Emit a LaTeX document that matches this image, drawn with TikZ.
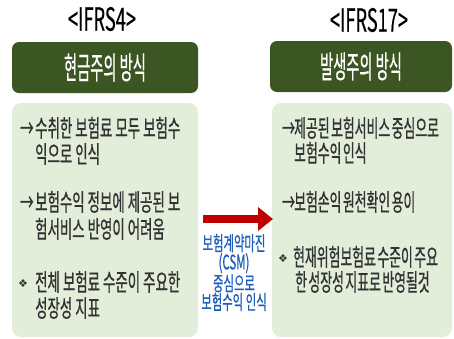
\documentclass[tikz,border=0pt]{standalone}
\usepackage{fontspec}
\usetikzlibrary{arrows.meta}
\newfontfamily\bodyfont[FakeStretch=0.56,FakeBold=0.7]{Noto Sans CJK KR}
\newfontfamily\rbodyfont[FakeStretch=0.535,FakeBold=0.7]{Noto Sans CJK KR}
\newfontfamily\csmfont[FakeStretch=0.57,FakeBold=0.5]{Noto Sans CJK KR}
\newfontfamily\hdrfont[FakeStretch=0.46,FakeBold=0.5]{Noto Sans CJK KR}
\newfontfamily\ttlfont[FakeStretch=0.57,FakeBold=0.3]{Noto Sans CJK KR}
\newfontfamily\symfont{DejaVu Sans}
\newcommand{\tightspace}{\spaceskip=1.5pt plus 1pt\relax}
\definecolor{hdrgreen}{RGB}{59,85,35}
\definecolor{lightgreen}{RGB}{226,237,218}
\definecolor{txtgray}{RGB}{50,50,50}
\definecolor{csmblue}{RGB}{30,95,190}
\definecolor{arrowred}{RGB}{192,0,0}
\tikzset{
  ttl/.style={font=\ttlfont\fontsize{32}{34}\selectfont, text=black, inner sep=0pt},
  hdrbox/.style={fill=hdrgreen, rounded corners=7pt, inner sep=0pt, text=white,
    font=\hdrfont\fontsize{31}{33}\selectfont},
  bodybox/.style={fill=lightgreen, rounded corners=9pt, inner sep=0pt},
  line/.style={anchor=base west, inner sep=0pt, text=txtgray,
    font=\bodyfont\fontsize{24}{26}\selectfont},
  rline/.style={line, font=\rbodyfont\fontsize{24}{26}\selectfont\tightspace},
  csm/.style={align=center, inner sep=0pt, text=csmblue,
    font=\csmfont\fontsize{20}{18.7}\selectfont},
  bigarrow/.style={draw=arrowred, line width=8pt,
    -{Triangle[length=15pt,width=23pt]}, color=arrowred}
}
\newcommand{\arr}[1]{\makebox[#1][l]{→}}
\newcommand{\dia}[1]{\makebox[#1][l]{\raisebox{4pt}{\symfont\fontsize{11}{11}\selectfont\color{txtgray}❖}}}
\begin{document}
\begin{tikzpicture}[x=1pt,y=-1pt]
\useasboundingbox (0,0) rectangle (454,338);
% titles
\node[ttl] (t1) at (102,19) {<IFRS4>};
\node[ttl] (t2) at (369,20) {<IFRS17>};
% headers
\node[hdrbox, minimum width=186pt, minimum height=51pt] (h1) at (105,67.5) {현금주의 방식};
\node[hdrbox, minimum width=182pt, minimum height=51pt] (h2) at (361,66.5) {발생주의 방식};
% body boxes
\node[bodybox, minimum width=186pt, minimum height=234pt] (b1) at (105,220) {};
\node[bodybox, minimum width=180pt, minimum height=234pt] (b2) at (362,220) {};
% left items
\node[line] (l1a) at (20,137) {\arr{15pt}수취한 보험료 모두 보험수};
\node[line] (l1b) at (35,163) {익으로 인식};
\node[line] (l2a) at (20,211) {\arr{15pt}보험수익 정보에 제공된 보};
\node[line] (l2b) at (35,238) {험서비스 반영이 어려움};
\node[line] (l3a) at (18,291) {\dia{17pt}전체 보험료 수준이 주요한};
\node[line] (l3b) at (35,317) {성장성 지표};
% right items
\node[rline] (r1a) at (282,137) {\arr{12pt}제공된 보험서비스 중심으로};
\node[rline] (r1b) at (294,162) {보험수익 인식};
\node[rline] (r2a) at (282,211) {\arr{12pt}보험손익 원천확인 용이};
\node[rline] (r3a) at (278,266) {\dia{15pt}현재위험보험료 수준이 주요};
\node[rline] (r3b) at (295,291) {한 성장성 지표로 반영될것};
% arrow and label
\coordinate (as) at (203,219);
\coordinate (ae) at (273,219);
\draw[bigarrow] (as) -- (ae);
\node[csm] (csm) at (234,272.5) {보험계약마진\\(CSM)\\중심으로\\보험수익 인식};
\end{tikzpicture}
\end{document}
